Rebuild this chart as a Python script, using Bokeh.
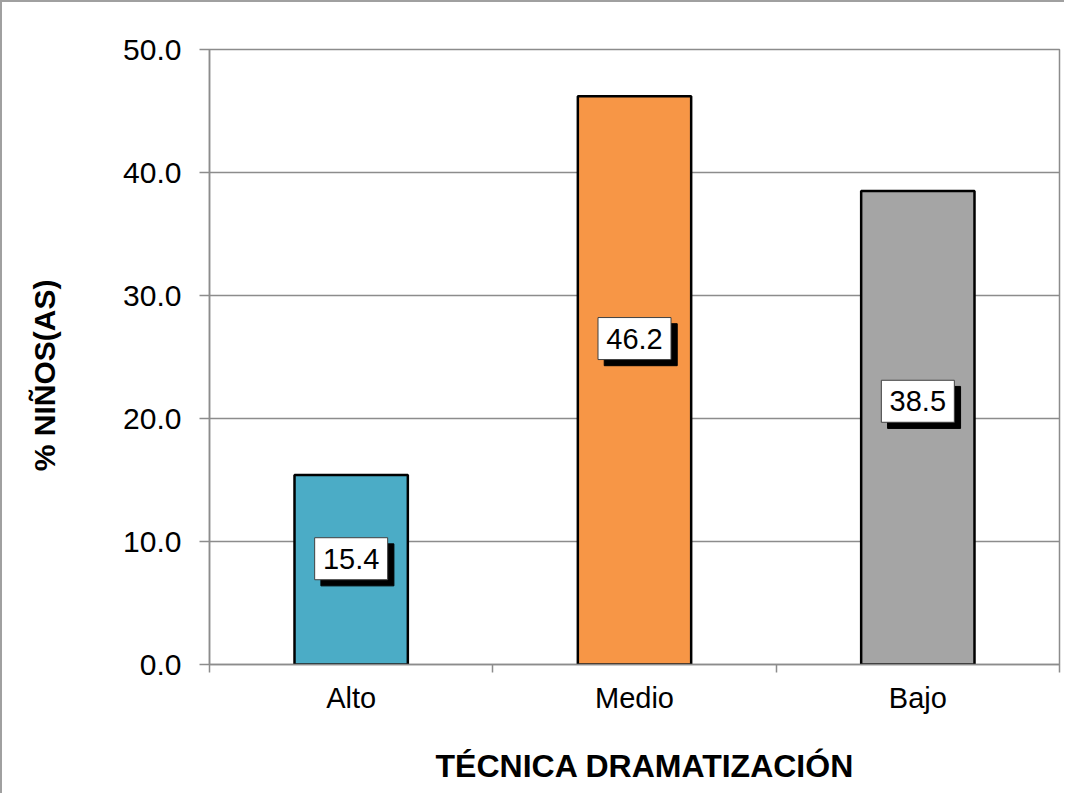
import math
from bokeh.plotting import figure
from bokeh.models import FixedTicker, ColumnDataSource, NumeralTickFormatter, Range1d, LinearAxis
from bokeh.core.properties import value
from bokeh.embed import file_html
from bokeh.resources import INLINE

# ---- data ----
categories = ["Alto", "Medio", "Bajo"]
percentages = [15.4, 46.2, 38.5]
bar_colors = ["#4BACC6", "#F79646", "#A5A5A5"]
label_texts = ["15.4", "46.2", "38.5"]
label_y = [8.6, 26.5, 21.4]          # where the data labels sit (data units)
y_ticks = [0, 10, 20, 30, 40, 50]
x_title = "TÉCNICA DRAMATIZACIÓN"
y_title = "% NIÑOS(AS)"

FONT = "Liberation Sans"

xs = [i + 0.5 for i in range(len(categories))]
src = ColumnDataSource(dict(x=xs, top=percentages, color=bar_colors,
                            ly=label_y, txt=label_texts,
                            sx=[x + 0.022 for x in xs],
                            sy=[v - 0.5 for v in label_y]))

p = figure(width=1064, height=793, output_backend="svg", toolbar_location=None,
           x_range=Range1d(0, len(categories)), y_range=Range1d(0, 50),
           min_border_left=207, min_border_right=7, min_border_top=47,
           min_border_bottom=131)

p.styles = {"border-left": "2px solid #a0a0a0", "border-top": "2px solid #a0a0a0"}

p.vbar(x="x", top="top", bottom=0, width=0.4, fill_color="color",
       line_color="black", line_width=2.5, source=src)

# data label boxes with shadow
p.rect(x="sx", y="sy", width=73, height=42, width_units="screen", height_units="screen",
       fill_color="black", line_color="black", source=src)
p.rect(x="x", y="ly", width=73, height=42, width_units="screen", height_units="screen",
       fill_color="white", line_color="#404040", line_width=1, source=src)
p.text(x="x", y="ly", text="txt", text_align="center", text_baseline="middle",
       text_font=value(FONT), text_font_size="29px", text_color="black", source=src)

# frame & grid
p.outline_line_color = "#8c8c8c"
p.outline_line_width = 1.5
p.xgrid.grid_line_color = None
p.ygrid.grid_line_color = "#8c8c8c"
p.ygrid.grid_line_width = 1.5
p.background_fill_color = "white"
p.border_fill_color = "white"

# y axis
p.yaxis.ticker = FixedTicker(ticks=y_ticks)
p.yaxis.formatter = NumeralTickFormatter(format="0.0")
p.yaxis.major_tick_in = 0
p.yaxis.major_tick_out = 10
p.yaxis.minor_tick_line_color = None
p.yaxis.axis_line_color = "#8c8c8c"
p.yaxis.axis_line_width = 1.5
p.yaxis.major_tick_line_color = "#8c8c8c"
p.yaxis.major_tick_line_width = 1.5
p.yaxis.major_label_text_font = FONT
p.yaxis.major_label_text_font_size = "30px"
p.yaxis.major_label_text_color = "black"
p.yaxis.major_label_standoff = 18

# x axis: labels at centres, tick marks at category boundaries
p.xaxis.ticker = FixedTicker(ticks=xs, minor_ticks=list(range(len(categories) + 1)))
p.xaxis.major_label_overrides = {x: c for x, c in zip(xs, categories)}
p.xaxis.major_tick_line_color = None
p.xaxis.minor_tick_in = 0
p.xaxis.minor_tick_out = 8
p.xaxis.minor_tick_line_color = "#8c8c8c"
p.xaxis.minor_tick_line_width = 1.5
p.xaxis.axis_line_color = "#8c8c8c"
p.xaxis.axis_line_width = 1.5
p.xaxis.major_label_text_font = FONT
p.xaxis.major_label_text_font_size = "29px"
p.xaxis.major_label_text_color = "black"
p.xaxis.major_label_standoff = 9

# axis titles (placed slightly off-centre, like the original)
XT_POS = 1.537   # along the x axis (centre of the title)
YT_POS = 31.3    # along the y axis (upper end of the rotated title)


def title_axis(pos, text, tick_out, angle, size):
    ax = LinearAxis(ticker=FixedTicker(ticks=[pos]), major_label_overrides={pos: text},
                    major_tick_in=0, major_tick_out=tick_out, major_label_standoff=0,
                    major_tick_line_color=None, minor_tick_line_color=None,
                    axis_line_color=None, major_label_orientation=angle,
                    major_label_text_font=FONT, major_label_text_font_style="bold",
                    major_label_text_font_size=size, major_label_text_color="black")
    return ax


p.add_layout(title_axis(XT_POS, x_title, 31, "horizontal", "32px"), "below")
p.add_layout(title_axis(YT_POS, y_title, 76, math.pi / 2, "30px"), "left")

open("out.html", "w").write(file_html(p, INLINE))
